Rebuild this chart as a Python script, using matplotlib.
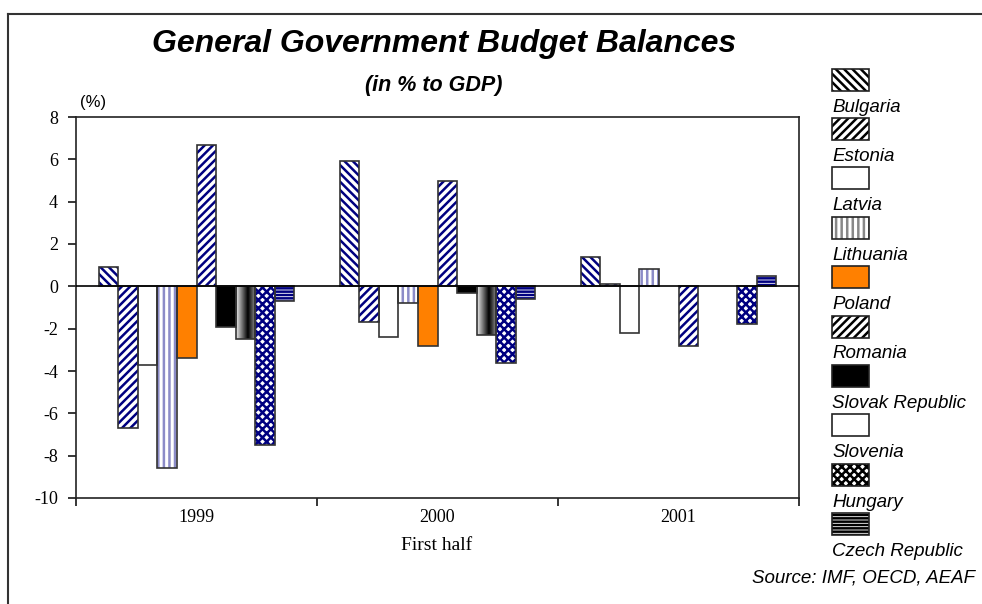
import numpy as np
import matplotlib
matplotlib.use("Agg")
import matplotlib.pyplot as plt
from matplotlib.patches import Rectangle
from matplotlib.lines import Line2D

years = ["1999", "2000", "2001"]
countries = ["Bulgaria", "Estonia", "Latvia", "Lithuania", "Poland", "Romania",
             "Slovak Republic", "Slovenia", "Hungary", "Czech Republic"]

# general government balance, % of GDP (2000 and 2001 are first-half figures)
bulgaria = [0.9, 5.9, 1.4]
estonia = [-6.7, -1.7, 0.1]
latvia = [-3.7, -2.4, -2.2]
lithuania = [-8.6, -0.8, 0.8]
poland = [-3.4, -2.8, np.nan]
romania = [6.7, 5.0, -2.8]
slovakia = [-1.9, -0.3, np.nan]
slovenia = [-2.5, -2.3, np.nan]
hungary = [-7.5, -3.6, -1.8]
czech = [-0.7, -0.6, 0.5]
balances = [bulgaria, estonia, latvia, lithuania, poland, romania,
            slovakia, slovenia, hungary, czech]

NAVY = "#000080"
# (face, hatch, hatch colour in plot, hatch colour in key)
styles = [
    ("white", "\\\\\\\\", NAVY, "black"),
    ("white", "////", NAVY, "black"),
    ("white", None, NAVY, "black"),
    ("white", "|||", "#8c8cc8", "#888888"),
    ("#ff8000", None, NAVY, "black"),
    ("white", "////", NAVY, "black"),
    ("black", None, NAVY, "black"),
    ("white", None, NAVY, "black"),   # gradient drawn separately
    ("white", "xxxx", NAVY, "black"),
    ("white", "-----", NAVY, "black"),
]

plt.rcParams["hatch.linewidth"] = 1.8
plt.rcParams["axes.unicode_minus"] = False
W, H = 982, 604
fig = plt.figure(figsize=(W / 100, H / 100), dpi=100)
ax = fig.add_axes([76 / W, 1 - 498 / H, (799 - 76) / W, (498 - 117) / H])

x = np.arange(len(years))
width = 0.081
grad = np.interp(np.linspace(0, 1, 64), [0, 0.6, 1], [0.92, 0.0, 0.6])

for i, vals in enumerate(balances):
    face, hatch, hcol, _ = styles[i]
    pos = x + (i - 4.5) * width
    filled = ax.bar(pos, vals, width, color=face, hatch=hatch, edgecolor=hcol,
                    linewidth=0, zorder=2)
    ax.bar(pos, vals, width, fill=False, edgecolor="#333333", linewidth=1.2, zorder=3)
    if countries[i] == "Slovenia":
        for rect in filled:
            if np.isnan(rect.get_height()):
                continue
            x0, y0 = rect.get_x(), rect.get_y()
            im = ax.imshow(grad[None, :], extent=[x0, x0 + rect.get_width(), y0, y0 + rect.get_height()],
                           aspect="auto", cmap="gray", vmin=0, vmax=1, zorder=2.5,
                           interpolation="bilinear")
            im.set_clip_path(rect)

ax.axhline(0, color="black", lw=1.2, zorder=4)
ax.set_xlim(-0.5, 2.5)
ax.set_ylim(-10, 8)
ax.set_yticks(range(-10, 9, 2))
ax.set_xticks([-0.5, 0.5, 1.5, 2.5])
ax.set_xticklabels([])
ax.set_xticks(x, minor=True)
ax.set_xticklabels(years, minor=True)
ax.tick_params(axis="x", which="major", direction="out", length=6, width=1.1)
ax.tick_params(axis="x", which="minor", length=0, pad=8)
ax.tick_params(axis="y", direction="out", length=6, width=1.1, pad=7)
for lab in ax.get_xticklabels(minor=True) + ax.get_yticklabels():
    lab.set_fontfamily("Liberation Serif")
    lab.set_fontsize(13)
for sp in ax.spines.values():
    sp.set_linewidth(1.2)
    sp.set_color("#222222")

# overlay in pixel coordinates for the frame, titles and key
ov = fig.add_axes([0, 0, 1, 1])
ov.set_xlim(0, W)
ov.set_ylim(H, 0)
ov.set_axis_off()
ov.add_line(Line2D([8, W], [14, 14], color="#333333", lw=1.5))
ov.add_line(Line2D([8, 8], [14, H], color="#333333", lw=1.5))

sans = "Liberation Sans"
ov.text(444, 44, "General Government Budget Balances", ha="center", va="center",
        family=sans, style="italic", weight="bold", fontsize=23)
ov.text(434, 86, "(in % to GDP)", ha="center", va="center",
        family=sans, style="italic", weight="bold", fontsize=15.5)
ov.text(80, 103, "(%)", ha="left", va="center", family=sans, fontsize=12)
ov.text(437, 545, "First half", ha="center", va="center",
        family="Liberation Serif", fontsize=14)
ov.text(975, 578, "Source: IMF, OECD, AEAF", ha="right", va="center",
        family=sans, style="italic", fontsize=13.5)

for i, name in enumerate(countries):
    face, hatch, _, kcol = styles[i]
    top = 68.5 + i * 49.4
    ov.add_patch(Rectangle((832, top), 37, 22, facecolor=face, hatch=hatch,
                           edgecolor=kcol, linewidth=0))
    if name == "Slovenia":
        ov.imshow(grad[None, :], extent=[832, 869, top + 22, top], aspect="auto",
                  cmap="gray", vmin=0, vmax=1, interpolation="bilinear")
    ov.add_patch(Rectangle((832, top), 37, 22, fill=False, edgecolor="#222222", linewidth=1.2))
    ov.text(832, top + 38.5, name, ha="left", va="center", family=sans,
            style="italic", fontsize=13.5)
ov.set_xlim(0, W)
ov.set_ylim(H, 0)

fig.savefig("out.png", dpi=100)
